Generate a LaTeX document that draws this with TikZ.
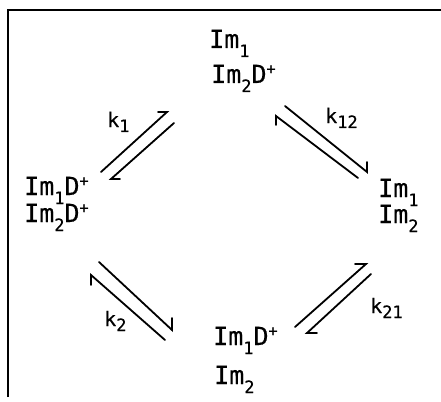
\documentclass[tikz,border=0pt]{standalone}
\usepackage{fontspec}
\setmainfont[FakeBold=0.5]{DejaVu Sans Mono}
\newcommand\lsb[1]{\raisebox{-9pt}{\fontsize{17}{17}\selectfont #1}}
\newcommand\lsp{\raisebox{9pt}{\fontsize{15}{15}\selectfont +}}
\newcommand\ksb[1]{\raisebox{-5pt}{\fontsize{17}{17}\selectfont #1}}
\begin{document}
\begin{tikzpicture}[x=1pt,y=-1pt,
  sp/.style={anchor=base west, inner sep=0, font=\fontsize{25}{28}\selectfont},
  kl/.style={anchor=base west, inner sep=0, font=\fontsize{20}{22}\selectfont},
  harp/.style={line width=1.8pt, line cap=round, line join=miter}]
\useasboundingbox (0,0) rectangle (441,401);
\draw[line width=2pt] (8,397) -- (8,10) -- (441,10);

% species
\node[sp] (t1) at (209,48) {Im\lsb{1}};
\node[sp] (t2) at (211,83) {Im\lsb{2}D\lsp};
\node[sp] (l1) at (24,195) {Im\lsb{1}D\lsp};
\node[sp] (l2) at (24,222) {Im\lsb{2}D\lsp};
\node[sp] (r1) at (378,197) {Im\lsb{1}};
\node[sp] (r2) at (378,223) {Im\lsb{2}};
\node[sp] (b1) at (213,345) {Im\lsb{1}D\lsp};
\node[sp] (b2) at (214,384) {Im\lsb{2}};

% rate constants
\node[kl] (k1) at (107,127) {k\ksb{1}};
\node[kl] (k12) at (325,123) {k\ksb{12}};
\node[kl] (k2) at (104,326) {k\ksb{2}};
\node[kl] (k21) at (370,313) {k\ksb{21}};

% top-left pair
\coordinate (a1s) at (101,172); \coordinate (a1e) at (167,112);
\coordinate (a2s) at (174,123); \coordinate (a2e) at (111,179);
\draw[harp] (a1s) -- (a1e) -- ++(-9,0);
\draw[harp] (a2s) -- (a2e) -- ++(9,0);
% top-right pair
\coordinate (b1s) at (285,106); \coordinate (b1e) at (367,172);
\coordinate (b2s) at (358,178); \coordinate (b2e) at (276,116);
\draw[harp] (b1s) -- (b1e) -- ++(0,-10);
\draw[harp] (b2s) -- (b2e) -- ++(0,9);
% bottom-left pair
\coordinate (c1s) at (99,262); \coordinate (c1e) at (172,330);
\coordinate (c2s) at (165,340); \coordinate (c2e) at (91,275);
\draw[harp] (c1s) -- (c1e) -- ++(0,-12);
\draw[harp] (c2s) -- (c2e) -- ++(0,10);
% bottom-right pair
\coordinate (d1s) at (295,327); \coordinate (d1e) at (366,264);
\coordinate (d2s) at (371,274); \coordinate (d2e) at (307,333);
\draw[harp] (d1s) -- (d1e) -- ++(-11,0);
\draw[harp] (d2s) -- (d2e) -- ++(10,0);
\end{tikzpicture}
\end{document}
